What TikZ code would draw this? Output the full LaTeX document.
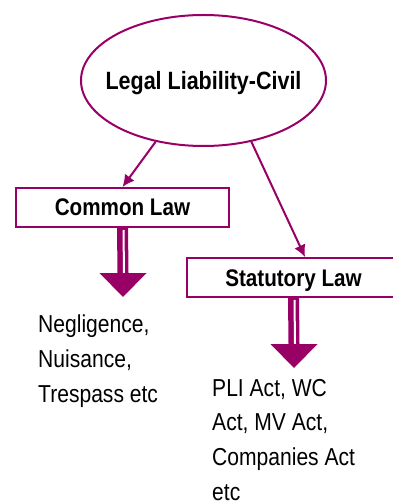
\documentclass[tikz,border=0pt]{standalone}
\usepackage{fontspec}
\setmainfont{Liberation Sans}[FakeStretch=0.86]
\usetikzlibrary{shapes.geometric,arrows.meta,calc}
\definecolor{lp}{RGB}{153,0,102}
\begin{document}
\begin{tikzpicture}[x=1pt,y=-1pt,
  border/.style={draw=lp,line width=2pt},
  boxnode/.style={border,rectangle,minimum width=213pt,minimum height=39pt,inner sep=0pt,
    text height=17pt,text depth=0pt,font=\fontsize{24}{28}\selectfont\bfseries},
  link/.style={draw=lp,line width=2pt,-{Latex[length=12pt,width=12pt]}},
  itemtext/.style={anchor=north west,align=left,inner sep=0pt,font=\fontsize{24.5}{34.6}\selectfont},
  shaft/.style={draw=lp,line width=11pt},
  gap/.style={draw=white,line width=2pt},
  head/.style={fill=lp}]
\useasboundingbox (0,0) rectangle (392,502);
\node[shape=ellipse,border,minimum width=245pt,minimum height=131pt,inner sep=0pt,
  text height=18pt,text depth=0pt,font=\fontsize{25}{30}\selectfont\bfseries] (ell) at (203.5,80.5) {\makebox[0pt]{Legal Liability-Civil}};
\node[boxnode] (cl) at (122.5,207.5) {Common Law};
\node[boxnode] (st) at (293.5,277.5) {Statutory Law};
\node[itemtext] (neg) at (38,315) {Negligence,\\Nuisance,\\Trespass etc};
\node[itemtext] (pli) at (212,379) {PLI Act, WC\\Act, MV Act,\\Companies Act\\etc};
\draw[link] (ell.232) -- (cl.north);
\draw[link] (ell.308) -- ($(st.north)+(11.5,0)$);
\coordinate (t1) at ($(cl.south)+(0.5,69)$);
\coordinate (t2) at ($(st.south)+(0.5,70)$);
\foreach \b/\t in {cl/t1,st/t2}{
  \draw[shaft] (\b.south) -- ($(\t)+(0,-24)$);
  \draw[gap] ($(\b.south)+(1,2)$) -- ($(\t)+(1,-24)$);
  \fill[head] ($(\t)+(-23.5,-24)$) -- ($(\t)+(23.5,-24)$) -- (\t) -- cycle;
}
\end{tikzpicture}
\end{document}
